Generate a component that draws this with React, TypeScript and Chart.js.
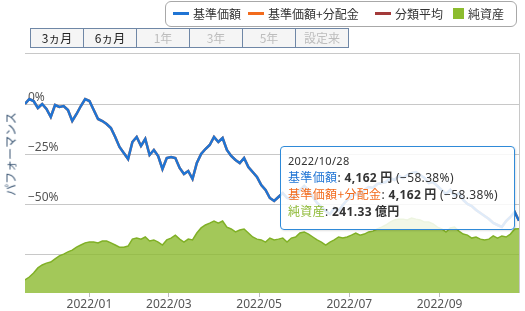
import React, { useEffect, useRef } from "react";
import { Chart, registerables } from "chart.js";

Chart.register(...registerables);

// sample spacing in trading days
const STEP = 2;
const X_MAX = 230;

// 基準価額 performance (%), one value every STEP trading days
const navPct = [
  0, 2.5, 1.5, -2, 0, -2.5, -6.5, -0.5, -1.5, -1,
  -3, -8.5, -5, -1, 2.5, 1.5, -3, -7.5, -8.5, -10,
  -12, -16.5, -21.5, -24.5, -27.5, -19, -16.5, -21, -17.5, -25.5,
  -23, -26, -32.5, -27, -26.5, -27, -32, -35, -33.5, -37.5,
  -29.5, -25, -22.5, -20.5, -16.5, -19, -17, -23, -26, -28,
  -29.5, -27, -31.5, -34, -36.5, -40.5, -43, -47, -48.5, -46.5,
  -44.5, -47, -47.5, -45.5, -43, -41, -43, -46.5, -49.5, -51.5,
  -53.5, -55, -52, -53.5, -50.5, -48, -46, -45, -45.5, -43,
  -41.5, -42, -40, -39.5, -39, -37, -38, -36, -37, -35.5,
  -34.5, -34, -35.5, -37, -39.5, -39, -41, -43, -45, -43,
  -46, -44.5, -48, -50, -51, -53, -54.5, -56, -57.5, -59.5,
  -60.5, -61.5, -58.5, -56.5, -54, -58.38,
];

// 基準価額+分配金 (no distributions paid, identical)
const navWithDivPct = navPct.slice();

// 純資産 (億円)
const netAssets = [
  49, 60, 75, 94, 105, 112, 116, 128, 139, 146,
  154, 161, 172, 180, 188, 191, 191, 188, 195, 195,
  188, 180, 172, 172, 176, 202, 206, 202, 210, 195,
  199, 191, 180, 199, 206, 217, 202, 191, 202, 199,
  225, 244, 255, 262, 270, 262, 270, 247, 240, 229,
  236, 240, 225, 210, 202, 199, 191, 206, 199, 202,
  206, 191, 206, 210, 225, 229, 221, 210, 199, 191,
  180, 191, 199, 210, 206, 210, 217, 225, 217, 221,
  229, 232, 240, 247, 255, 266, 274, 277, 277, 274,
  281, 277, 274, 266, 266, 259, 247, 240, 229, 244,
  247, 232, 221, 217, 206, 210, 202, 199, 202, 214,
  206, 214, 210, 221, 240, 241.33,
];

const xTickIdx = [30, 67, 109, 151, 193];
const xTickLabels = ["2022/01", "2022/03", "2022/05", "2022/07", "2022/09"];
const yTickValues = [0, -25, -50, -75];
const yTickLabels = ["0%", "\u221225%", "\u221250%", ""];

const legendItems = [
  { label: "基準価額", color: "#1f74d4", type: "line", x: 173 },
  { label: "基準価額+分配金", color: "#f26b1d", type: "line", x: 248 },
  { label: "分類平均", color: "#a33a3a", type: "line", x: 375 },
  { label: "純資産", color: "#8cbc2e", type: "box", x: 453 },
];

const periodButtons = [
  { label: "3ヵ月", enabled: true },
  { label: "6ヵ月", enabled: true },
  { label: "1年", enabled: false },
  { label: "3年", enabled: false },
  { label: "5年", enabled: false },
  { label: "設定来", enabled: false },
];

const tipDate = "2022/10/28";
const tipNav = "4,162";
const tipNavPct = "(\u221258.38%)";
const tipAssets = "241.33";

const JP = '"Noto Sans CJK JP", "Noto Sans", sans-serif';
const LAT = '"Noto Sans", "Noto Sans CJK JP", sans-serif';

const framePlugin = {
  id: "frame",
  beforeDatasetsDraw(chart: any) {
    const { ctx, chartArea: a } = chart;
    ctx.save();
    ctx.strokeStyle = "#c8c8c8";
    ctx.lineWidth = 1;
    ctx.beginPath();
    ctx.moveTo(a.left, Math.round(a.top) + 0.5);
    ctx.lineTo(Math.round(a.right) + 0.5, Math.round(a.top) + 0.5);
    ctx.lineTo(Math.round(a.right) + 0.5, a.bottom);
    ctx.stroke();
    ctx.restore();
  },
};

const lat = (s: string, bold = false) => (
  <span style={{ fontFamily: LAT, fontWeight: bold ? 700 : 400 }}>{s}</span>
);

export default function App() {
  const ref = useRef<HTMLCanvasElement | null>(null);

  useEffect(() => {
    if (!ref.current) return;
    const toPts = (arr: number[]) => arr.map((v, i) => ({ x: i * STEP, y: v }));
    const chart = new Chart(ref.current, {
      type: "line",
      data: {
        datasets: [
          {
            label: "純資産",
            data: toPts(netAssets),
            yAxisID: "y2",
            borderColor: "rgb(128,176,38)",
            borderWidth: 1.5,
            backgroundColor: "rgba(140,186,48,0.8)",
            fill: "start",
            pointRadius: 0,
            tension: 0,
            order: 3,
          },
          {
            label: "基準価額+分配金",
            data: toPts(navWithDivPct),
            yAxisID: "y",
            borderColor: "#f26b1d",
            borderWidth: 2.5,
            pointRadius: 0,
            tension: 0,
            fill: false,
            order: 2,
          },
          {
            label: "基準価額",
            data: toPts(navPct),
            yAxisID: "y",
            borderColor: "#1f74d4",
            borderWidth: 2.5,
            pointRadius: 0,
            tension: 0,
            fill: false,
            order: 1,
          },
        ],
      },
      options: {
        animation: false,
        responsive: false,
        devicePixelRatio: 1,
        layout: { padding: { top: 53, right: 6, left: 0, bottom: 0 }, autoPadding: false },
        plugins: { legend: { display: false }, tooltip: { enabled: false } },
        scales: {
          x: {
            type: "linear",
            min: 0,
            max: X_MAX,
            afterFit: (s: any) => { s.height = 18; },
            afterBuildTicks: (s: any) => { s.ticks = xTickIdx.map((v) => ({ value: v })); },
            grid: { drawOnChartArea: false, drawTicks: true, tickLength: 4, color: "#bbbbbb" },
            border: { display: false },
            ticks: {
              autoSkip: false,
              maxRotation: 0,
              padding: 0,
              color: "#555555",
              font: { family: LAT, size: 12 },
              callback: (v: any) => {
                const i = xTickIdx.indexOf(Number(v));
                return i >= 0 ? xTickLabels[i] : "";
              },
            },
          },
          y: {
            type: "linear",
            position: "left",
            min: -94.5,
            max: 25.5,
            afterFit: (s: any) => { s.width = 25; },
            afterBuildTicks: (s: any) => { s.ticks = yTickValues.map((v) => ({ value: v })); },
            grid: { color: "#c8c8c8", drawTicks: false },
            border: { display: false },
            ticks: {
              mirror: true,
              padding: 3,
              labelOffset: -6,
              color: "#555555",
              font: { family: LAT, size: 12 },
              callback: (v: any) => {
                const i = yTickValues.indexOf(Number(v));
                return i >= 0 ? yTickLabels[i] : "";
              },
            },
          },
          y2: {
            type: "linear",
            position: "right",
            display: false,
            min: 0,
            max: 900,
          },
        },
      },
      plugins: [framePlugin],
    } as any);
    return () => chart.destroy();
  }, []);

  const lineStyle: React.CSSProperties = { font: `12px ${JP}`, color: "#333", lineHeight: "16px", whiteSpace: "nowrap", letterSpacing: 0.35 };

  return (
    <div style={{ position: "fixed", left: 0, top: 0, width: 525, height: 311, overflow: "hidden", background: "#fff" }}>
      <canvas ref={ref} width={525} height={311} style={{ position: "absolute", left: 0, top: 0, width: 525, height: 311 }} />

      {/* legend */}
      <div style={{ position: "absolute", left: 165, top: 1, width: 350, height: 24, border: "1px solid #a8a8a8", borderRadius: 6, background: "#fff" }} />
      {legendItems.map((it) => (
        <div key={it.label} style={{ position: "absolute", left: it.x, top: 4, height: 18, display: "flex", alignItems: "center", font: `12px ${JP}`, color: "#333", whiteSpace: "nowrap" }}>
          {it.type === "line" ? (
            <span style={{ display: "inline-block", width: 16, height: 3, background: it.color, marginRight: 4 }} />
          ) : (
            <span style={{ display: "inline-block", width: 11, height: 11, background: it.color, marginRight: 4 }} />
          )}
          <span>{it.label}</span>
        </div>
      ))}

      {/* period buttons */}
      <div style={{ position: "absolute", left: 30, top: 28, height: 18, display: "flex", border: "1px solid #6f87a6", background: "#f5f5f5" }}>
        {periodButtons.map((b, i) => (
          <div key={b.label} style={{ width: 52, height: 18, lineHeight: "18px", textAlign: "center", font: `12px ${JP}`, color: b.enabled ? "#222" : "#bdbdbd", borderLeft: i === 0 ? "none" : "1px solid #6f87a6" }}>
            {b.label}
          </div>
        ))}
      </div>

      {/* y axis title */}
      <div style={{ position: "absolute", left: 10, top: 154, transform: "translate(-50%, -50%) rotate(-90deg)", font: `12px ${JP}`, color: "#3d5876", whiteSpace: "nowrap" }}>
        パフォーマンス
      </div>

      {/* tooltip */}
      <div style={{ position: "absolute", left: 280, top: 146, width: 226, height: 76, border: "1px solid #2f8ad8", borderRadius: 4, background: "rgba(255,255,255,0.86)", boxShadow: "1px 1px 2px rgba(0,0,0,0.12)", padding: "6px 0 0 7px", boxSizing: "content-box" }}>
        <div style={{ font: `11px ${LAT}`, color: "#333", lineHeight: "16px", letterSpacing: 0.3 }}>{tipDate}</div>
        <div style={lineStyle}>
          <span style={{ color: "#1f74d4" }}>基準価額</span>{lat(": ")}{lat(tipNav, true)}<b> 円</b>{lat(" " + tipNavPct)}
        </div>
        <div style={lineStyle}>
          <span style={{ color: "#f26b1d" }}>基準価額+分配金</span>{lat(": ")}{lat(tipNav, true)}<b> 円</b>{lat(" " + tipNavPct)}
        </div>
        <div style={lineStyle}>
          <span style={{ color: "#8cb832" }}>純資産</span>{lat(": ")}{lat(tipAssets, true)}<b> 億円</b>
        </div>
      </div>
    </div>
  );
}
